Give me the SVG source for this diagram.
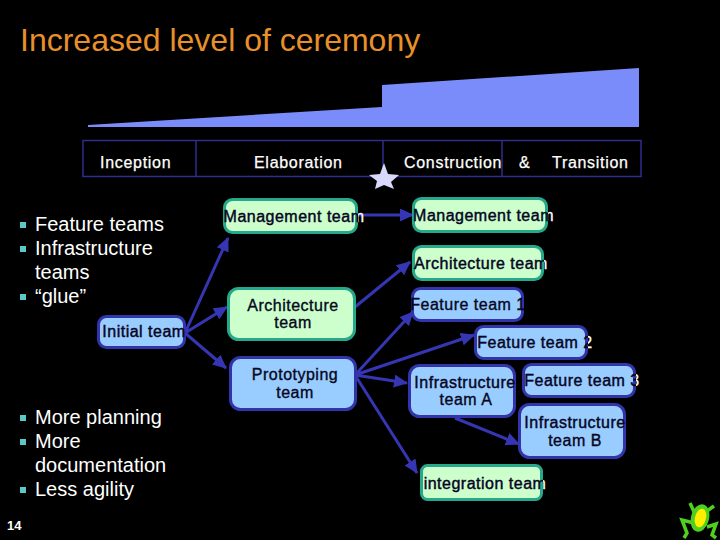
<svg xmlns="http://www.w3.org/2000/svg" width="720" height="540" viewBox="0 0 720 540">
<style>
text{font-family:"Liberation Sans",Arial,sans-serif}
.title{font-size:32px;fill:#e8902a}
.bl{font-size:20px;fill:#fff}
.ph{font-size:16px;fill:#fff;stroke:#fff;stroke-width:.25px;letter-spacing:.7px}
.n{font-size:16px;fill:#060620;stroke:#060620;stroke-width:.35px;letter-spacing:.5px;text-anchor:middle}
.g{fill:#ccffcc;stroke:#26a88a;stroke-width:3}
.b{fill:#99ccff;stroke:#3333aa;stroke-width:3}
.c line{stroke:#3636b4;stroke-width:3;marker-end:url(#a)}
.bar{fill:none;stroke:#2e2e90;stroke-width:1.5}
.sq{fill:#5cc8c8}
</style>
<defs>
<marker id="a" markerUnits="userSpaceOnUse" markerWidth="16" markerHeight="14" refX="13" refY="6.500" orient="auto"><path d="M0 0L14 6.500L0 13Z" fill="#3636b4"/></marker>
<linearGradient id="t1" gradientUnits="userSpaceOnUse" x1="0" x2="720" y1="0" y2="0"><stop offset=".4972" stop-color="#060620"/><stop offset=".4972" stop-color="#fff"/></linearGradient>
<linearGradient id="t2" gradientUnits="userSpaceOnUse" x1="0" x2="720" y1="0" y2="0"><stop offset=".7611" stop-color="#060620"/><stop offset=".7611" stop-color="#fff"/></linearGradient>
<linearGradient id="t3" gradientUnits="userSpaceOnUse" x1="0" x2="720" y1="0" y2="0"><stop offset=".7556" stop-color="#060620"/><stop offset=".7556" stop-color="#fff"/></linearGradient>
<linearGradient id="t4" gradientUnits="userSpaceOnUse" x1="0" x2="720" y1="0" y2="0"><stop offset=".8167" stop-color="#060620"/><stop offset=".8167" stop-color="#fff"/></linearGradient>
<linearGradient id="t5" gradientUnits="userSpaceOnUse" x1="0" x2="720" y1="0" y2="0"><stop offset=".8833" stop-color="#060620"/><stop offset=".8833" stop-color="#fff"/></linearGradient>
<linearGradient id="t6" gradientUnits="userSpaceOnUse" x1="0" x2="720" y1="0" y2="0"><stop offset=".2583" stop-color="#060620"/><stop offset=".2583" stop-color="#fff"/></linearGradient>
<linearGradient id="t7" gradientUnits="userSpaceOnUse" x1="0" x2="720" y1="0" y2="0"><stop offset=".8694" stop-color="#060620"/><stop offset=".8694" stop-color="#fff"/></linearGradient>
<linearGradient id="t8" gradientUnits="userSpaceOnUse" x1="0" x2="720" y1="0" y2="0"><stop offset=".7542" stop-color="#060620"/><stop offset=".7542" stop-color="#fff"/></linearGradient>
<linearGradient id="t9" gradientUnits="userSpaceOnUse" x1="0" x2="720" y1="0" y2="0"><stop offset=".7167" stop-color="#060620"/><stop offset=".7167" stop-color="#fff"/></linearGradient>
</defs>
<rect width="720" height="540" fill="#000"/>
<text class="title" x="20" y="51">Increased level of ceremony</text>
<path d="M88 127V125L382 107V85L639 68V127Z" fill="#7a8cfa"/>
<g id="phases">
<rect class="bar" x="83" y="140.500" width="558" height="36"/>
<path class="bar" d="M196 140V177M383 140V177M502 140V177"/>
<text class="ph" x="100" y="168">Inception</text>
<text class="ph" x="254" y="168">Elaboration</text>
<text class="ph" x="404" y="168">Construction</text>
<text class="ph" x="519" y="168">&amp;</text>
<text class="ph" x="552" y="168">Transition</text>
<path id="star" d="M384 163L388 174L399 175L391 182L394 189L384 185L375 189L377 181L369 175L380 174Z" fill="#d8d8fa"/>
</g>
<g id="list1">
<rect class="sq" x="20" y="222" width="6" height="6"/><text class="bl" x="35" y="231">Feature teams</text>
<rect class="sq" x="20" y="246" width="6" height="6"/><text class="bl" x="35" y="255">Infrastructure</text>
<text class="bl" x="35" y="279">teams</text>
<rect class="sq" x="20" y="294" width="6" height="6"/><text class="bl" x="35" y="303">“glue”</text>
</g>
<g id="list2">
<rect class="sq" x="20" y="415" width="6" height="6"/><text class="bl" x="35" y="424">More planning</text>
<rect class="sq" x="20" y="439" width="6" height="6"/><text class="bl" x="35" y="448">More</text>
<text class="bl" x="35" y="472">documentation</text>
<rect class="sq" x="20" y="487" width="6" height="6"/><text class="bl" x="35" y="496">Less agility</text>
</g>
<text x="7" y="530" font-size="13" font-weight="700" fill="#fff">14</text>
<g class="c" id="connectors">
<line x1="185" y1="333" x2="228" y2="238"/>
<line x1="185" y1="333" x2="227" y2="307"/>
<line x1="185" y1="333" x2="226" y2="368"/>
<line x1="358" y1="215" x2="413" y2="215"/>
<line x1="355" y1="307" x2="410" y2="262"/>
<line x1="355" y1="375" x2="413" y2="312"/>
<line x1="355" y1="375" x2="474" y2="335"/>
<line x1="355" y1="375" x2="407" y2="383"/>
<line x1="355" y1="375" x2="417" y2="473"/>
<line x1="455" y1="418" x2="519" y2="444"/>
</g>
<g id="n-initial"><rect class="b" x="98.500" y="316.500" width="86" height="31" rx="8"/><text class="n" x="144" y="337" style="fill:url(#t6);stroke:url(#t6)">Initial team</text></g>
<g id="n-mgmt1"><rect class="g" x="224.500" y="199.500" width="132" height="33" rx="8"/><text class="n" x="294" y="222" style="fill:url(#t1);stroke:url(#t1)">Management team</text></g>
<g id="n-arch1"><rect class="g" x="228.500" y="288.500" width="126" height="51" rx="10"/><text class="n" x="293" y="311">Architecture</text><text class="n" x="293" y="328">team</text></g>
<g id="n-proto"><rect class="b" x="230.500" y="357.500" width="125" height="52" rx="10"/><text class="n" x="295" y="380">Prototyping</text><text class="n" x="295" y="398">team</text></g>
<g id="n-mgmt2"><rect class="g" x="413.500" y="198.500" width="133" height="33" rx="8"/><text class="n" x="483.500" y="221" style="fill:url(#t2);stroke:url(#t2)">Management team</text></g>
<g id="n-arch2"><rect class="g" x="413.500" y="246.500" width="129" height="33" rx="8"/><text class="n" x="481" y="269" style="fill:url(#t3);stroke:url(#t3)">Architecture team</text></g>
<g id="n-f1"><rect class="b" x="412.500" y="288.500" width="110" height="32" rx="8"/><text class="n" x="468" y="310">Feature team 1</text></g>
<g id="n-f2"><rect class="b" x="475.500" y="326.500" width="111" height="32" rx="8"/><text class="n" x="535" y="348" style="fill:url(#t4);stroke:url(#t4)">Feature team 2</text></g>
<g id="n-ia"><rect class="b" x="409.500" y="365.500" width="105" height="51" rx="10"/><text class="n" x="465" y="388" style="fill:url(#t9);stroke:url(#t9)">Infrastructure</text><text class="n" x="466" y="405">team A</text></g>
<g id="n-f3"><rect class="b" x="523.500" y="364.500" width="111" height="32" rx="8"/><text class="n" x="582" y="386" style="fill:url(#t5);stroke:url(#t5)">Feature team 3</text></g>
<g id="n-ib"><rect class="b" x="519.500" y="404.500" width="105" height="53" rx="10"/><text class="n" x="575" y="428" style="fill:url(#t7);stroke:url(#t7)">Infrastructure</text><text class="n" x="575" y="446">team B</text></g>
<g id="n-int"><rect class="g" x="421.500" y="465.500" width="120" height="34" rx="6"/><text class="n" x="485" y="489" style="fill:url(#t8);stroke:url(#t8)">integration team</text></g>
<g id="frog">
<path d="M695 514L690 503M707 511L714 506M694 523L682 520L687 533L684 538M707 527L716 524L712 535L716 538" stroke="#4fd020" stroke-width="3.500" fill="none"/>
<ellipse cx="700" cy="518" rx="9" ry="14" transform="rotate(14 700 518)" fill="#4fd020"/>
<ellipse cx="700.500" cy="518" rx="5.500" ry="9.500" transform="rotate(14 700.500 518)" fill="#ffee00"/>
</g>
</svg>
